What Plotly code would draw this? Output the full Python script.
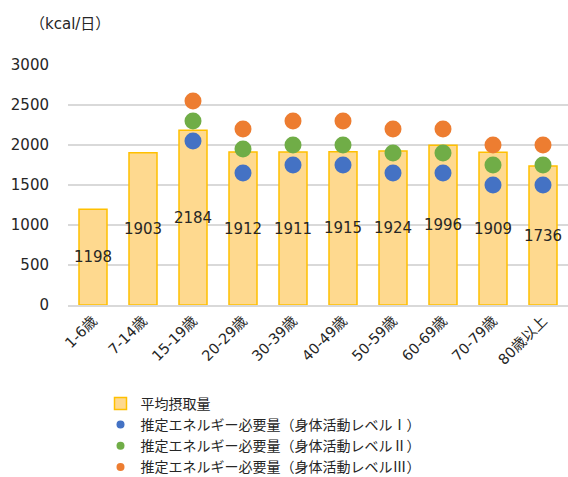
import plotly.graph_objects as go

categories = ["1-6歳", "7-14歳", "15-19歳", "20-29歳", "30-39歳", "40-49歳", "50-59歳", "60-69歳", "70-79歳", "80歳以上"]
avg_intake = [1198, 1903, 2184, 1912, 1911, 1915, 1924, 1996, 1909, 1736]
level1 = [None, None, 2050, 1650, 1750, 1750, 1650, 1650, 1500, 1500]
level2 = [None, None, 2300, 1950, 2000, 2000, 1900, 1900, 1750, 1750]
level3 = [None, None, 2550, 2200, 2300, 2300, 2200, 2200, 2000, 2000]
y_ticks = [0, 500, 1000, 1500, 2000, 2500, 3000]

FONT = "DejaVu Sans, Noto Sans CJK JP, sans-serif"
CJK = "Noto Sans CJK JP, sans-serif"
TXT = "#262626"

fig = go.Figure()
fig.add_trace(go.Bar(
    x=categories, y=avg_intake, name="平均摂取量",
    marker=dict(color="#FED98F", line=dict(color="#FFC000", width=1.5)),
    text=[str(v) for v in avg_intake], textposition="inside",
    insidetextanchor="middle", textangle=0,
    textfont=dict(size=15, color=TXT, family=FONT),
    width=0.56,
))
series = [
    ("推定エネルギー必要量（身体活動レベルⅠ）", level1, "#4472C4"),
    ("推定エネルギー必要量（身体活動レベルⅡ）", level2, "#70AD47"),
    ("推定エネルギー必要量（身体活動レベルⅢ）", level3, "#ED7D31"),
]
for name, vals, col in series:
    fig.add_trace(go.Scatter(
        x=categories, y=vals, name=name, mode="markers", showlegend=False,
        marker=dict(color=col, size=17, line=dict(width=0)),
    ))
for name, vals, col in series:
    fig.add_trace(go.Scatter(
        x=[categories[0]], y=[None], name=name, mode="markers", showlegend=True,
        marker=dict(color=col, size=8, line=dict(width=0)),
    ))

fig.update_layout(
    width=568, height=477,
    margin=dict(l=68, r=0, t=65, b=172, autoexpand=False),
    plot_bgcolor="white", paper_bgcolor="white",
    font=dict(family=FONT, size=15, color=TXT),
    uniformtext=dict(minsize=15, mode="show"),
    showlegend=True,
    legend=dict(x=0.065, y=-0.345, xanchor="left", yanchor="top",
                font=dict(size=14, color=TXT, family=CJK), tracegroupgap=0,
                itemwidth=30, bgcolor="rgba(0,0,0,0)"),
    xaxis=dict(tickangle=-45, showgrid=False, showline=True, linecolor="#D9D9D9",
               linewidth=1.5, tickfont=dict(size=14.5), automargin=False,
               range=[-0.5, len(categories) - 0.5]),
    yaxis=dict(range=[0, 3000], tickvals=y_ticks, showgrid=True, gridcolor="#D9D9D9",
               gridwidth=1.5, zeroline=False, tickfont=dict(size=15),
               ticklabelstandoff=18, automargin=False),
)
fig.layout.annotations = [dict(text="（kcal/日）", x=-0.08, y=1.0, xref="paper", yref="paper",
                               xanchor="left", yanchor="middle", yshift=41,
                               showarrow=False, font=dict(size=15))]
post = ("document.body.style.margin='0';document.body.style.overflow='hidden';"
        "Plotly.relayout(document.getElementById('{plot_id}'), {width:568, height:477});")
fig.write_html("out.html", config={"responsive": False, "displayModeBar": False}, post_script=post)
